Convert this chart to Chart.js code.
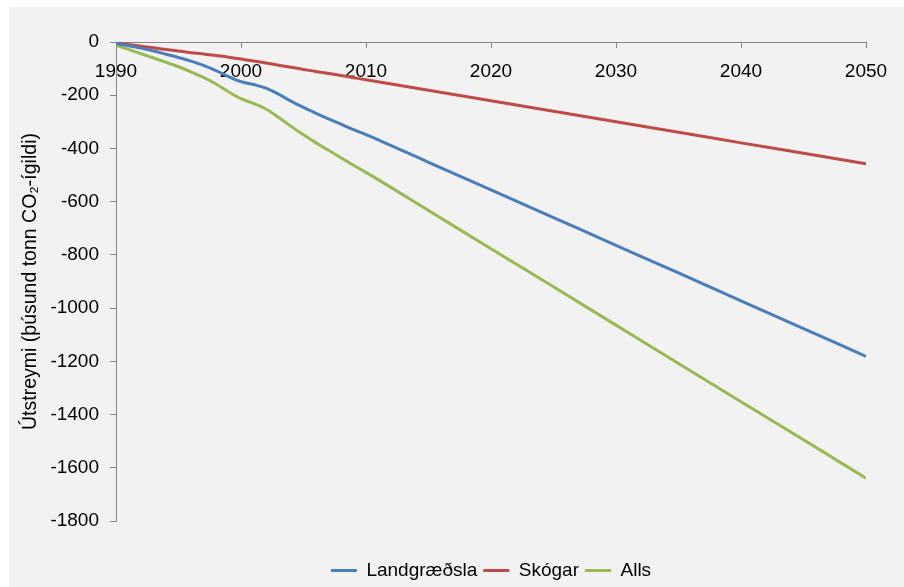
<!DOCTYPE html>
<html>
<head>
<meta charset="utf-8">
<script src="https://cdn.jsdelivr.net/npm/chart.js@4"></script>
<style>
  html, body { margin: 0; padding: 0; background: #ffffff; }
  #panel { position: absolute; left: 9px; top: 7px; width: 895px; height: 580px; background: #f2f2f2; }
  #wrap { position: absolute; left: 0; top: 0; width: 904px; height: 587px; }
</style>
</head>
<body>
<div id="panel"></div>
<div id="wrap"><canvas id="c" width="904" height="587"></canvas></div>
<script>
const years = [1990,1991,1992,1993,1994,1995,1996,1997,1998,1999,2000,2001,2002,2003,2004,2005,2006,2007,2008,2009,2010,2015,2020,2025,2030,2035,2040,2045,2050];
const landgraedsla = [-6,-14,-23,-34,-46,-58,-72,-88,-108,-130,-149,-160,-173,-196,-222,-246,-268,-289,-309,-329,-348,-452,-556,-660,-764,-868,-973,-1077,-1181];
const skogar = [-2,-9,-16,-22,-28,-34,-40,-45,-51,-57,-64,-71,-79,-87,-95,-103,-111,-118,-126,-134,-142,-181,-221,-260,-300,-339,-379,-418,-458];
const alls = [-12,-28,-44,-60,-76,-93,-112,-133,-158,-187,-213,-231,-252,-283,-317,-349,-379,-407,-435,-463,-490,-633,-777,-920,-1064,-1208,-1352,-1495,-1639];
const seriesNames = ['Landgræðsla', 'Skógar', 'Alls'];
const yTitle = 'Útstreymi (þúsund tonn CO₂-ígildi)';

const FONT = '"Liberation Sans", Arial, Helvetica, sans-serif';
const colors = ['#4a7ebb', '#be4b48', '#98b954'];
const toPts = arr => years.map((yr, i) => ({ x: yr, y: arr[i] }));

new Chart(document.getElementById('c'), {
  type: 'line',
  data: {
    datasets: [landgraedsla, skogar, alls].map((arr, i) => ({
      label: seriesNames[i],
      data: toPts(arr),
      borderColor: colors[i],
      backgroundColor: colors[i],
      borderWidth: 3,
      pointRadius: 0,
      pointHoverRadius: 0,
      cubicInterpolationMode: 'monotone',
      fill: false
    }))
  },
  options: {
    responsive: false,
    animation: false,
    layout: { padding: { left: 0, right: 38, top: 42, bottom: -3 } },
    plugins: {
      tooltip: { enabled: false },
      legend: {
        position: 'bottom',
        fullSize: false,
        title: { display: true, text: '', font: { size: 10, lineHeight: 1 }, padding: { top: 24, bottom: 0 } },
        labels: {
          usePointStyle: true,
          pointStyle: 'line',
          pointStyleWidth: 26,
          padding: 6,
          color: '#000000',
          font: { family: FONT, size: 19 }
        }
      }
    },
    scales: {
      x: {
        type: 'linear',
        position: { y: 0 },
        min: 1990,
        max: 2050,
        ticks: {
          stepSize: 10,
          color: '#000000',
          padding: 13,
          maxRotation: 0,
          autoSkip: false,
          font: { family: FONT, size: 19 },
          callback: v => String(v)
        },
        grid: { drawOnChartArea: false, drawTicks: true, tickLength: 5, color: '#868686' },
        border: { display: true, color: '#868686', width: 1 }
      },
      y: {
        type: 'linear',
        position: 'left',
        min: -1800,
        max: 0,
        afterFit: s => { s.width = 116; },
        ticks: {
          stepSize: 200,
          color: '#000000',
          padding: 11,
          font: { family: FONT, size: 19 },
          callback: v => String(v)
        },
        grid: { drawOnChartArea: false, drawTicks: true, tickLength: 6, color: '#868686' },
        border: { display: true, color: '#868686', width: 1 },
        title: {
          display: true,
          text: yTitle,
          color: '#000000',
          font: { family: FONT, size: 19.5 },
          padding: { top: 19, bottom: 0 }
        }
      }
    }
  }
});
</script>
</body>
</html>
